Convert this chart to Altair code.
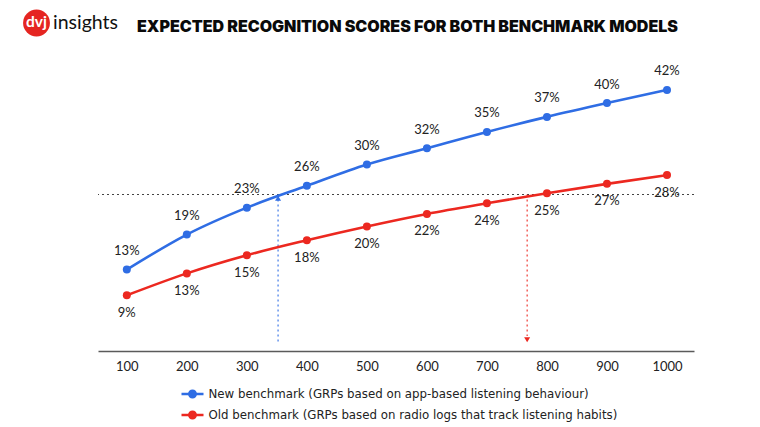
import altair as alt
import pandas as pd

# ---- data ----
grps = [100, 200, 300, 400, 500, 600, 700, 800, 900, 1000]
new_scores = [13.0, 18.6, 22.9, 26.4, 29.8, 32.4, 35.0, 37.4, 39.6, 41.7]
old_scores = [8.9, 12.4, 15.3, 17.7, 19.9, 21.9, 23.6, 25.2, 26.7, 28.1]
new_labels = ["13%", "19%", "23%", "26%", "30%", "32%", "35%", "37%", "40%", "42%"]
old_labels = ["9%", "13%", "15%", "18%", "20%", "22%", "24%", "25%", "27%", "28%"]
series_names = [
    "New benchmark (GRPs based on app-based listening behaviour)",
    "Old benchmark (GRPs based on radio logs that track listening habits)",
]
series_colors = ["#2f6de4", "#ec2820"]
title_text = "EXPECTED RECOGNITION SCORES FOR BOTH BENCHMARK MODELS"

ref_score = 25
new_cross_grp = 352
old_cross_grp = 767

rows = []
for g, v, l in zip(grps, new_scores, new_labels):
    rows.append({"grp": g, "score": v, "series": series_names[0], "label": l})
for g, v, l in zip(grps, old_scores, old_labels):
    rows.append({"grp": g, "score": v, "series": series_names[1], "label": l})
df = pd.DataFrame(rows)

# plot geometry (page coords: plot area x 98..694, y 38..351)
W, H = 596, 313
PL, PT = 90, 30
PR = 744 - PL - W
PB = 419 - PT - H

xs = alt.Scale(domain=[52, 1045], nice=False, zero=False)
ys = alt.Scale(domain=[0, 50], nice=False)
cs = alt.Scale(domain=series_names, range=series_colors)

is_new = f"datum.series === '{series_names[0]}'"
cond_color = alt.condition(is_new, alt.value(series_colors[0]), alt.value(series_colors[1]))

X = alt.X("grp:Q", scale=xs,
          axis=alt.Axis(values=grps, grid=False, ticks=False, tickSize=0,
                        domainColor="#5a5a5a", domainWidth=1.6,
                        labelFont="Lato", labelFontSize=13, labelColor="#222222",
                        labelPadding=9, title=None, format="d"))
Y = alt.Y("score:Q", scale=ys, axis=None)

base = alt.Chart(df)

lines = base.mark_line(interpolate="monotone", strokeWidth=2.6).encode(
    x=X, y=Y, detail="series:N", color=cond_color,
)

legend_symbol = ("M-1.1,-0.13 L1.1,-0.13 L1.1,0.13 L-1.1,0.13 Z "
                 "M0.45,0 A0.45,0.45 0 1,1 -0.45,0 A0.45,0.45 0 1,1 0.45,0 Z")

points = base.mark_point(filled=True, size=64, opacity=1).encode(
    x=X, y=Y,
    color=alt.Color("series:N", scale=cs, sort=series_names,
                    legend=alt.Legend(
                        title=None, orient="none", legendX=84.5, legendY=346,
                        direction="vertical", padding=0, rowPadding=4,
                        symbolType=legend_symbol,
                        symbolSize=400, symbolStrokeWidth=0, symbolOpacity=1,
                        labelFont="DejaVu Sans", labelFontSize=11.8,
                        labelColor="#222222", labelOffset=6, labelLimit=600)),
)

labels_new = base.transform_filter(alt.datum.series == series_names[0]).mark_text(
    font="Lato", fontSize=13, color="#222222", dy=-18.5
).encode(x=X, y=Y, text="label:N")

labels_old = base.transform_filter(alt.datum.series == series_names[1]).mark_text(
    font="Lato", fontSize=13, color="#222222", dy=17.5
).encode(x=X, y=Y, text="label:N")

# reference annotations
hdf = pd.DataFrame({"score": [ref_score]})
hrule = alt.Chart(hdf).mark_rule(color="#444444", strokeWidth=1, strokeDash=[2, 3]).encode(
    y=alt.Y("score:Q", scale=ys, axis=None))

vdf = pd.DataFrame({
    "grp": [new_cross_grp, old_cross_grp],
    "top": [ref_score, ref_score],
    "bottom": [1.2, 2.4],
    "series": series_names,
})
vrules = alt.Chart(vdf).mark_rule(strokeWidth=1.1, strokeDash=[2, 3]).encode(
    x=alt.X("grp:Q", scale=xs),
    y=alt.Y("top:Q", scale=ys, axis=None),
    y2="bottom:Q",
    color=cond_color,
)

adf = pd.DataFrame({
    "grp": [new_cross_grp, old_cross_grp],
    "score": [24.4, 1.8],
    "series": series_names,
    "shape": ["triangle-up", "triangle-down"],
})
arrows = alt.Chart(adf).mark_point(filled=True, size=36, opacity=1).encode(
    x=alt.X("grp:Q", scale=xs),
    y=alt.Y("score:Q", scale=ys, axis=None),
    color=cond_color,
    shape=alt.Shape("shape:N", scale=None, legend=None),
)

# header: logo + title
one = pd.DataFrame({"a": [0]})
logo_circle = alt.Chart(one).mark_circle(color="#e52521", opacity=1, size=720).encode(
    x=alt.value(36.5 - 98), y=alt.value(23 - 38))
logo_dvj = alt.Chart(one).mark_text(text="dvj", font="Lato", fontSize=15.5, fontWeight="bold",
                                    color="white", align="center", baseline="middle").encode(
    x=alt.value(36.5 - 98), y=alt.value(21.5 - 38))
logo_ins = alt.Chart(one).mark_text(text="insights", font="Lato", fontSize=19.5,
                                    color="#111111", align="left", baseline="middle").encode(
    x=alt.value(53 - 98), y=alt.value(22.5 - 38))
title = alt.Chart(one).mark_text(text=title_text, font="Inter", fontSize=16, fontWeight=900,
                                 color="#0a0a0a", align="left", baseline="middle").encode(
    x=alt.value(137 - 98), y=alt.value(27 - 38))

chart = alt.layer(
    hrule, vrules, lines, points, arrows, labels_new, labels_old,
    logo_circle, logo_dvj, logo_ins, title,
).properties(
    width=W, height=H,
    padding={"left": PL, "top": PT, "right": PR, "bottom": PB},
    autosize=alt.AutoSizeParams(type="none"),
).configure_view(stroke=None)

chart.save("out.html", embed_options={"renderer": "svg", "actions": False})
